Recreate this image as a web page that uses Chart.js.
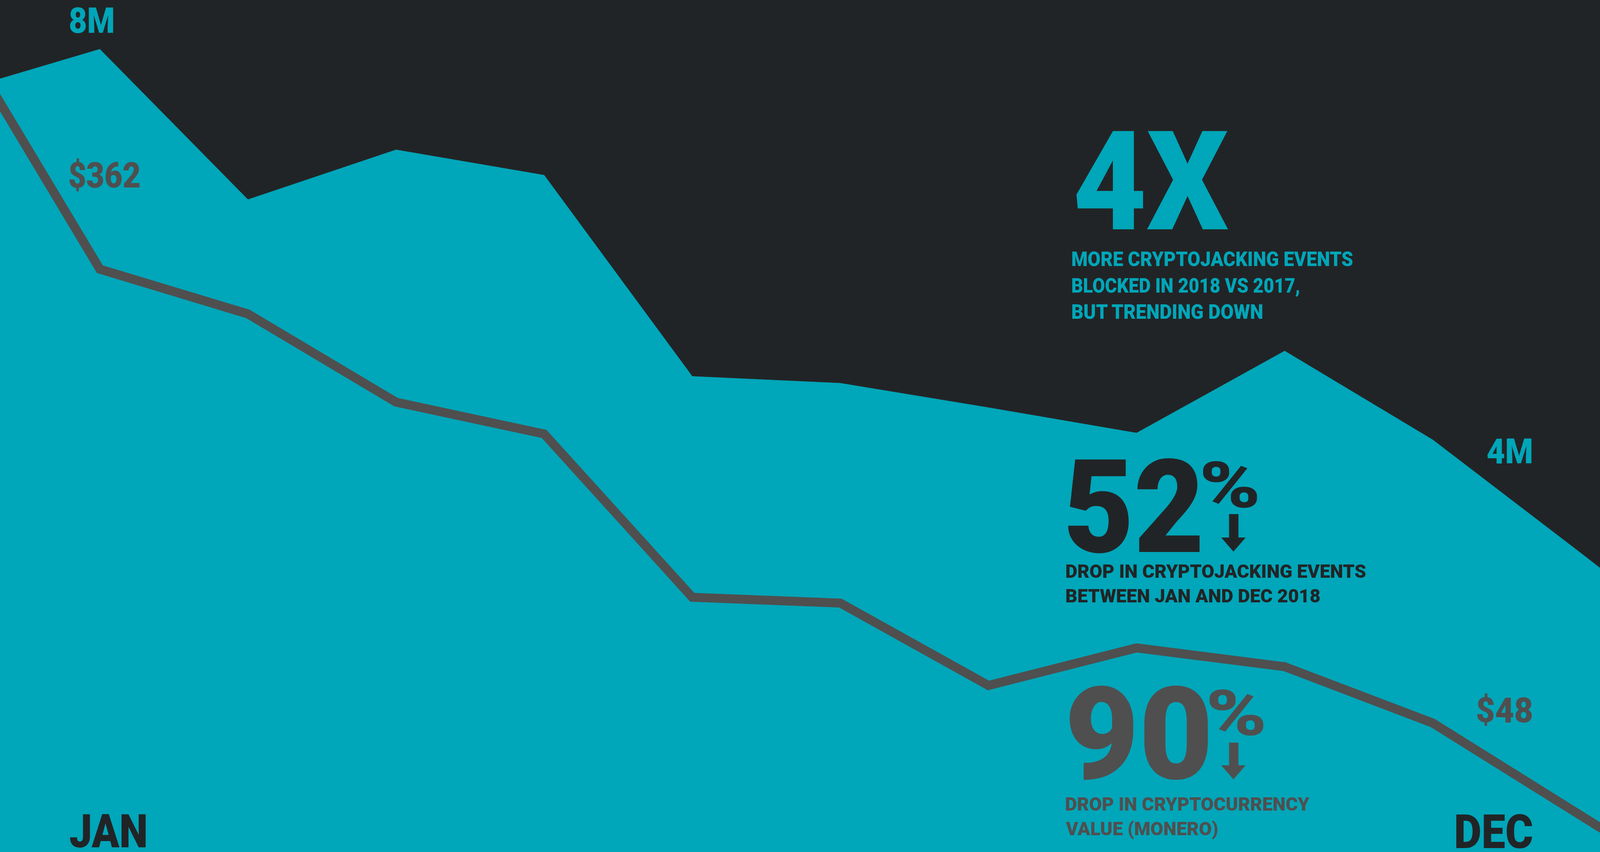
<!DOCTYPE html>
<html>
<head>
<meta charset="utf-8">
<script src="https://cdn.jsdelivr.net/npm/chart.js@4.4.1/dist/chart.umd.min.js"></script>
<style>
    html, body { margin: 0; padding: 0; overflow: hidden; background: #212426; width: 100vw; height: 100vh; }
    #wrap { position: absolute; left: 0; top: 0; width: 100vw; height: 100vh; }
    #labels {
        position: absolute; left: 0; top: 0;
        width: 5120px; height: 2181px;
        transform-origin: 0 0;
        overflow: hidden;
        pointer-events: none;
    }
    .t {
        position: absolute;
        white-space: nowrap;
        font-family: Roboto, "Liberation Sans", sans-serif;
        font-weight: 900;
    }
    .teal { color: #00a6b9; }
    .dark { color: #212426; }
    .gray { color: #4f4f4f; }
    #arrows { position: absolute; left: 0; top: 0; }
</style>
</head>
<body>
<div id="wrap"><canvas id="chart"></canvas></div>

<!-- labels are laid out on the 5120 x 2181 reference grid and scaled to the window -->
<div id="labels">
    <div class="t teal" data-x="223" data-base="84" data-cap="65" data-w="139">8M</div>
    <div class="t gray" data-x="221" data-base="480" data-cap="65" data-w="226">$362</div>
    <div class="t dark" data-x="224" data-base="2170" data-cap="85" data-w="243">JAN</div>
    <div class="t dark" data-x="4903" data-base="2172" data-cap="86" data-w="243" data-align="right">DEC</div>
    <div class="t teal" data-x="4901" data-base="1186" data-cap="64" data-w="142" data-align="right">4M</div>
    <div class="t gray" data-x="4903" data-base="1849" data-cap="63" data-w="176" data-align="right">$48</div>

    <div class="t teal" data-x="3439" data-base="588" data-cap="253" data-w="492">4X</div>
    <div class="t teal" data-x="3430" data-base="681" data-cap="37" data-w="898">MORE CRYPTOJACKING EVENTS</div>
    <div class="t teal" data-x="3430" data-base="749" data-cap="37" data-w="727">BLOCKED IN 2018 VS 2017,</div>
    <div class="t teal" data-x="3430" data-base="816" data-cap="37" data-w="613">BUT TRENDING DOWN</div>

    <div class="t dark" data-x="3415" data-base="1413" data-cap="238" data-w="426">52</div>
    <div class="t dark" data-x="3849" data-base="1299" data-cap="117" data-w="174">%</div>
    <div class="t dark" data-x="3412" data-base="1480" data-cap="34" data-w="959">DROP IN CRYPTOJACKING EVENTS</div>
    <div class="t dark" data-x="3412" data-base="1543" data-cap="34" data-w="812">BETWEEN JAN AND DEC 2018</div>

    <div class="t gray" data-x="3420" data-base="1994" data-cap="236" data-w="449">90</div>
    <div class="t gray" data-x="3870" data-base="1882" data-cap="116" data-w="173">%</div>
    <div class="t gray" data-x="3410" data-base="2076" data-cap="35" data-w="780">DROP IN CRYPTOCURRENCY</div>
    <div class="t gray" data-x="3410" data-base="2139" data-cap="35" data-w="486">VALUE (MONERO)</div>

    <svg id="arrows" width="5120" height="2181">
        <polygon fill="#212426" points="3933,1316 3963,1316 3963,1376 3986,1376 3947,1412 3908,1376 3933,1376"/>
        <polygon fill="#4f4f4f" points="3933,1901 3963,1901 3963,1959 3986,1959 3947,1995 3908,1959 3933,1959"/>
    </svg>
</div>

<script>
// x position of each reading: 0 = JAN ... 9 = DEC (-1, 10, 11 run off the edges)
const periods = [-1, 0, 1, 2, 3, 4, 5, 6, 7, 8, 9, 10, 11];
// cryptojacking events blocked, millions
const eventsMillions = [7.55, 8.00, 6.46, 6.97, 6.71, 4.65, 4.58, 4.33, 4.07, 4.91, 4.00, 2.84, 1.66];
// Monero price, USD
const moneroPrice = [533, 362, 331, 270, 248, 135, 131, 74, 100, 87, 48, -16, -80];

const TEAL = '#00a6b9';
const GRAY = '#4f4f4f';

// window px per reference px
const SX = window.innerWidth / 5120;
const SY = window.innerHeight / 2181;
document.getElementById('labels').style.transform = `scale(${SX}, ${SY})`;

const toPoints = (vals) => periods.map((p, i) => ({ x: p, y: vals[i] }));

const chart = new Chart(document.getElementById('chart'), {
    type: 'line',
    data: {
        datasets: [
            {
                label: 'Monero value',
                data: toPoints(moneroPrice),
                yAxisID: 'y2',
                borderColor: GRAY,
                borderWidth: 23 * SY,
                borderJoinStyle: 'miter',
                borderCapStyle: 'butt',
                fill: false,
                pointRadius: 0,
                tension: 0,
                order: 0
            },
            {
                label: 'Cryptojacking events',
                data: toPoints(eventsMillions),
                yAxisID: 'y',
                borderColor: TEAL,
                borderWidth: 1,
                backgroundColor: TEAL,
                fill: 'start',
                pointRadius: 0,
                tension: 0,
                order: 1
            }
        ]
    },
    options: {
        responsive: true,
        maintainAspectRatio: false,
        animation: false,
        layout: { padding: 0 },
        plugins: {
            legend: { display: false },
            tooltip: { enabled: false }
        },
        scales: {
            x: { type: 'linear', display: false, min: -0.674, max: 10.129 },
            y: { type: 'linear', display: false, min: -0.22, max: 8.504 },
            y2: { type: 'linear', display: false, min: -41.2, max: 548.2 }
        }
    }
});

// Size and place every label so its cap height, baseline and ink width match
const meter = document.createElement('canvas').getContext('2d');

const fitLabel = (el) => {
    const d = el.dataset;
    const cs = getComputedStyle(el);
    const fam = cs.fontFamily, wt = cs.fontWeight;

    meter.font = `${wt} 200px ${fam}`;
    const capRatio = meter.measureText('H').actualBoundingBoxAscent / 200;
    const size = +d.cap / capRatio;

    meter.font = `${wt} ${size}px ${fam}`;
    const m = meter.measureText(el.textContent);
    const ink = m.actualBoundingBoxLeft + m.actualBoundingBoxRight;
    const sx = +d.w / ink;
    const baseOff = (size - (m.fontBoundingBoxAscent + m.fontBoundingBoxDescent)) / 2 + m.fontBoundingBoxAscent;

    el.style.fontSize = size + 'px';
    el.style.lineHeight = size + 'px';
    el.style.top = (+d.base - baseOff) + 'px';
    el.style.transform = `scaleX(${sx})`;

    if (d.align === 'right') {
        el.style.transformOrigin = 'right top';
        const gap = m.width - m.actualBoundingBoxRight;
        el.style.left = (+d.x + gap * sx - m.width) + 'px';
    } else {
        el.style.transformOrigin = 'left top';
        el.style.left = (+d.x + m.actualBoundingBoxLeft * sx) + 'px';
    }
};

document.querySelectorAll('#labels .t').forEach(fitLabel);
document.fonts.ready.then(() => {
    document.querySelectorAll('#labels .t').forEach(fitLabel);
});
</script>
</body>
</html>
